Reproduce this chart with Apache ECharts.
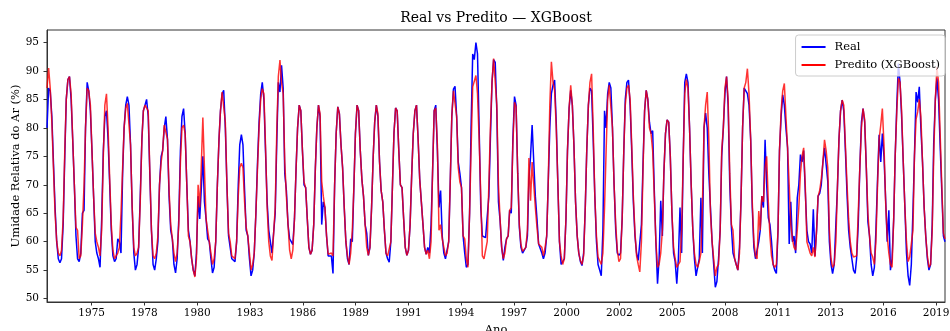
<!DOCTYPE html>
<html>
<head>
<meta charset="utf-8">
<script src="https://cdn.jsdelivr.net/npm/echarts@6/dist/echarts.min.js"></script>
<style>
  html, body { margin: 0; padding: 0; background: #fff; }
  #chart { width: 950px; height: 331px; }
</style>
</head>
<body>
<div id="chart"></div>
<script>
// monthly points (month-end), first one is Feb 1973
const startYear = 1973;
const startMonth = 2;

const real = [
  80, 87, 86.5, 82, 74, 66, 60, 57, 56.3, 57, 63, 75,
  85, 88.5, 89, 85, 78, 70, 61, 57, 56.5, 58, 65, 65.5,
  80, 88, 86.5, 83, 76, 68, 60, 58, 57, 55.5, 64, 76,
  82, 83, 78, 70, 62, 57.5, 56.5, 57, 60.5, 60, 58, 72,
  80, 84, 85.5, 84, 77, 66, 58, 55, 56, 59, 68, 78,
  83, 84, 85, 82, 72, 62, 56, 55, 57, 60, 70, 75,
  76, 80, 82, 78, 68, 62, 60.5, 56, 54.5, 57, 64, 76,
  82, 83.4, 79, 70, 62, 60, 57, 55, 54, 58, 68, 64,
  69, 75, 67, 64, 60.5, 60, 57, 54.5, 55.5, 60, 70, 78,
  83, 86, 86.6, 80, 70, 61, 59, 57, 57, 56.5, 60, 70,
  77, 78.8, 77, 69, 62, 61, 57, 54, 55, 58, 65, 74,
  81, 86, 88, 85, 76, 67, 62, 60, 58, 58, 65, 78,
  88, 86.3, 91, 87, 72, 69, 63, 60.5, 60, 59.5, 64, 73,
  80, 84, 83, 76, 70, 69.5, 64, 59, 57.8, 58.5, 63, 73,
  80, 84, 82, 63, 67, 66, 61, 57.5, 57.5, 57.5, 54.4, 70,
  79, 83.7, 82.5, 77, 73, 66, 60, 57, 56, 60.5, 60, 70,
  79, 84, 83, 76, 71, 68, 63, 61.5, 57.6, 59, 66, 75,
  81, 84, 82, 74, 69, 67, 62, 58, 57, 56.4, 60, 70,
  79, 83.5, 83, 76, 70, 69.5, 64, 59, 57.6, 58.5, 63, 72,
  79, 83, 84, 78, 71, 67, 63, 59, 57.8, 59, 58, 63,
  72, 83, 84, 76, 66, 69, 61, 58, 57, 56.7, 60, 71,
  82, 86.8, 87.3, 82, 74, 72, 69.5, 61, 58, 55.5, 56, 65,
  80, 93, 92, 95, 93, 80, 66, 61, 60.7, 60.7, 61, 68,
  78, 88, 92, 91.5, 83, 67, 63.7, 59, 56.7, 59, 60.5, 61,
  65.5, 65, 78, 85.5, 84, 72, 62.5, 59, 58, 58.2, 59, 61,
  71, 75, 80.5, 74, 68, 64, 59.6, 59.8, 58, 57, 58, 61,
  70, 80, 86, 87.5, 88.4, 81, 70, 60, 56, 55.8, 57, 64,
  76, 83.5, 86.6, 84, 77, 67, 61, 58, 56.5, 55.8, 58, 66,
  76, 84, 87, 86.5, 78, 68, 60, 56, 55, 54, 62, 83,
  80, 86, 88, 87, 80, 70, 62, 58, 57.6, 58, 64, 76,
  85, 88, 88.4, 84, 76, 67, 61, 58, 56.7, 57, 63, 74,
  83, 86.6, 85, 81, 79, 79.5, 69, 60, 52.6, 57, 67.2, 61,
  72, 79, 81.4, 81, 75, 65, 58, 56.5, 52.6, 57, 66, 58,
  74, 88, 89.5, 88, 80, 70, 62, 57, 54, 53.8, 57, 67.7,
  58, 80, 82.6, 80, 72, 66, 60, 56, 52, 53, 57, 62,
  75, 80, 86, 89, 84, 70, 62.5, 58, 57, 56, 55, 59,
  67, 80, 87, 87, 86, 84, 78, 66, 59, 57, 57, 60,
  62, 68, 66, 77.9, 70, 64.2, 63, 60, 56, 55, 54.4, 62,
  76, 82, 85.8, 84, 80, 76.5, 59.6, 67, 60, 61, 58, 67.7,
  70, 75.3, 74, 76, 69, 62, 60, 59.6, 58, 65.7, 57.5, 62,
  68, 68.5, 70, 74, 76.5, 76.7, 70.6, 60, 56, 54.4, 56, 63,
  69, 78, 83, 84.9, 83, 76, 68.3, 62, 59, 57, 55, 54.4,
  57, 63, 73, 81, 83.4, 81, 73, 63.5, 61, 56, 54, 55.5,
  62, 71, 78.8, 74, 79, 75, 67.5, 60, 65.5, 55, 57, 64,
  75, 84, 91.3, 88, 82, 74, 66, 58, 54, 52.3, 56, 65.5,
  75, 86.3, 84.5, 87.2, 80, 74, 66, 61, 57, 55, 56, 63,
  77.3, 85, 88.7, 85, 77, 69, 61, 60
];

const pred = [
  87, 90.5, 87, 81, 73, 65, 60, 58, 57.5, 58.5, 64, 76,
  85, 88.5, 89, 86, 78, 70, 62.5, 62, 57, 57.5, 63, 70,
  80, 87, 86.5, 84, 76, 68, 61.5, 60, 59, 57.5, 62, 75,
  84, 86, 80, 71, 63, 58.5, 57, 57.5, 58, 59, 65, 73,
  80, 83.5, 84.3, 84, 77, 66, 59, 57.5, 58, 59, 67, 78,
  83, 84, 84, 83, 72.5, 62, 57.5, 57, 58, 61, 70, 74,
  76, 80.5, 80.5, 78, 69, 63, 60.5, 58, 56.5, 58, 63, 74,
  80, 80.5, 79, 70, 61, 60, 57, 55, 53.8, 57, 70, 66,
  73, 81.8, 73, 64, 62, 60, 58, 56, 57, 60, 70, 78,
  83, 86.3, 86.4, 81, 70, 61.5, 60, 57.5, 57.5, 57, 60, 68,
  73, 73.8, 73, 67, 62.5, 61, 58, 55, 56, 58, 65, 73,
  80, 85, 86.9, 86, 77, 66, 60, 57.5, 56.7, 57, 66, 80,
  89, 91.9, 88, 86, 74, 68, 63, 58.5, 57, 58.5, 64, 73,
  80, 84, 83, 76, 70.5, 69.5, 64, 59, 57.8, 58.5, 63, 73,
  80, 84, 82.5, 70.6, 68, 66, 61, 57.8, 57.5, 58, 57.5, 70,
  79, 83.7, 82.5, 77, 73, 66, 60, 57.5, 56, 58, 62, 70,
  79, 84, 83, 76, 71, 68, 63, 59, 57.6, 59, 66, 75,
  81, 84, 82.5, 74, 69, 67, 62, 58, 57.5, 57.6, 60, 70,
  79, 83.5, 83, 76, 70, 69.5, 64, 59, 57.6, 58.5, 63, 72,
  79, 83, 84, 78, 71, 67, 63, 59, 57.8, 58.5, 57, 60,
  72, 83, 83.5, 77, 62, 63, 60.5, 59, 57.5, 58, 60, 71,
  82, 86.5, 86.8, 82, 73, 70.5, 69.5, 61, 60.5, 57, 55.5, 65,
  76, 87.2, 87.5, 89.2, 86, 78, 68, 57.5, 57, 57.3, 60, 70,
  80, 88, 92.2, 92, 84, 70, 64, 59, 57, 58, 60.5, 61,
  65.5, 66, 77, 84.5, 83.7, 72, 63, 59.5, 58.3, 58.2, 59, 62,
  74.7, 67.2, 74, 70, 66, 62.5, 59.6, 59.7, 59, 57.5, 59, 61,
  70, 84, 91.6, 88, 86.6, 80, 70, 60, 57.5, 56, 57, 64,
  76, 83.5, 87.5, 84, 77, 67, 61, 58, 56.7, 56, 57.5, 66,
  76, 84, 88, 89.5, 80, 68, 61, 57.3, 57.3, 56, 58, 66,
  75.3, 85, 87.5, 87.5, 80, 70, 63, 58.5, 56.5, 57, 64, 76,
  84, 87, 87.5, 85, 77, 68, 61.5, 57.5, 56, 54.7, 60, 73,
  83, 86.6, 85, 80, 79, 76, 68, 60, 55.5, 56, 58, 62,
  72, 79, 81.4, 81, 75, 65, 59, 57, 55.5, 55.5, 56.5, 62,
  74, 86, 88.5, 87, 80, 70, 62, 58, 56, 55.5, 56.5, 58,
  66, 80, 84, 86.3, 78, 65, 60, 57, 54, 55.5, 56, 62,
  76, 80, 87, 89, 85, 72, 63, 62, 57, 56, 55, 58,
  67, 80, 87, 88, 90.4, 86, 78, 67, 60, 57.5, 57, 65.4,
  62, 68, 67, 73, 75, 67, 61, 57.5, 56, 55.5, 56, 62,
  76, 83, 86.5, 87.8, 82, 76.5, 70, 63, 60.5, 59, 58.5, 62,
  66, 72, 75, 76.5, 70, 60, 60, 58, 57.5, 59, 57.3, 62,
  68, 69, 71, 74, 77.9, 76, 73, 62, 57, 55.5, 56, 60,
  69, 78, 83, 84.9, 84, 77, 70, 64, 60, 58, 57.3, 57.5,
  57.5, 65, 73, 80, 83.4, 81.5, 73, 65, 61, 58, 57.3, 56,
  60, 70, 78, 80.5, 83.4, 77, 67, 61, 58, 56, 55.5, 64,
  75, 83, 88.7, 88, 83, 74, 66, 60, 56.5, 57.3, 57, 62,
  75, 81.5, 82.8, 85, 82, 74, 66, 61, 57.5, 55.5, 56, 62,
  75, 85, 90.7, 88, 79, 70, 61.5, 60.5
];

// x ticks: days since 1970-01-01
const tickDays = [2000, 3000, 4000, 5000, 6000, 7000, 8000, 9000, 10000,
  11000, 12000, 13000, 14000, 15000, 16000, 17000, 18000];
const tickLabels = ['1975', '1978', '1980', '1983', '1986', '1989', '1991', '1994', '1997',
  '2000', '2002', '2005', '2008', '2011', '2013', '2016', '2019'];
const yTicks = [50, 55, 60, 65, 70, 75, 80, 85, 90, 95];

function monthEndDay(i) {
  return Date.UTC(startYear, startMonth + i, 0) / 86400000;
}

const font = "'DejaVu Serif', serif";
const chart = echarts.init(document.getElementById('chart'));

const option = {
  animation: false,
  backgroundColor: '#fff',
  title: {
    text: 'Real vs Predito — XGBoost',
    left: 496,
    textAlign: 'center',
    top: 11,
    padding: 0,
    textStyle: { fontFamily: font, fontSize: 14, fontWeight: 'normal', color: '#000' }
  },
  legend: {
    orient: 'vertical',
    right: 5,
    top: 35,
    padding: [5, 5, 4, 6],
    itemGap: 4,
    itemWidth: 24,
    itemHeight: 2,
    icon: 'rect',
    backgroundColor: 'rgba(255,255,255,0.8)',
    borderColor: '#cccccc',
    borderWidth: 1,
    borderRadius: 3,
    textStyle: { fontFamily: font, fontSize: 11.5, color: '#000', lineHeight: 14, padding: [0, 0, 0, 4] },
    data: ['Real', 'Predito (XGBoost)']
  },
  grid: {
    left: 47, right: 5, top: 30, bottom: 29,
    outerBoundsMode: 'none',
    show: true, borderColor: '#333', borderWidth: 1
  },
  xAxis: {
    type: 'value',
    min: monthEndDay(0),
    max: monthEndDay(real.length - 1),
    name: 'Ano',
    nameLocation: 'middle',
    nameGap: 22,
    nameMoveOverlap: false,
    nameTextStyle: { fontFamily: font, fontSize: 11.5, color: '#000' },
    axisLine: { lineStyle: { color: '#333' } },
    axisTick: { customValues: tickDays, length: 3.5, lineStyle: { color: '#333' } },
    axisLabel: {
      customValues: tickDays,
      margin: 6,
      fontFamily: font, fontSize: 10.5, color: '#000',
      formatter: function (v) {
        const k = tickDays.indexOf(Math.round(v));
        return k >= 0 ? tickLabels[k] : '';
      }
    },
    splitLine: { show: false }
  },
  yAxis: {
    type: 'value',
    min: 49.4,
    max: 97.2,
    name: 'Umidade Relativa do Ar (%)',
    nameLocation: 'middle',
    nameGap: 25,
    nameMoveOverlap: false,
    nameTextStyle: { fontFamily: font, fontSize: 11.5, color: '#000' },
    axisLine: { show: true, lineStyle: { color: '#333' } },
    axisTick: { show: true, customValues: yTicks, length: 3.5, lineStyle: { color: '#333' } },
    axisLabel: { customValues: yTicks, margin: 8, fontFamily: font, fontSize: 10.5, color: '#000' },
    splitLine: { show: false }
  },
  series: [
    {
      name: 'Real',
      type: 'line',
      showSymbol: false,
      data: real.map((v, i) => [monthEndDay(i), v]),
      lineStyle: { color: '#0000ff', width: 1.5 },
      itemStyle: { color: '#0000ff' }
    },
    {
      name: 'Predito (XGBoost)',
      type: 'line',
      showSymbol: false,
      data: pred.map((v, i) => [monthEndDay(i), v]),
      lineStyle: { color: '#ff0000', width: 1.5, opacity: 0.8 },
      itemStyle: { color: '#ff0000' }
    }
  ]
};

chart.setOption(option);
</script>
</body>
</html>
